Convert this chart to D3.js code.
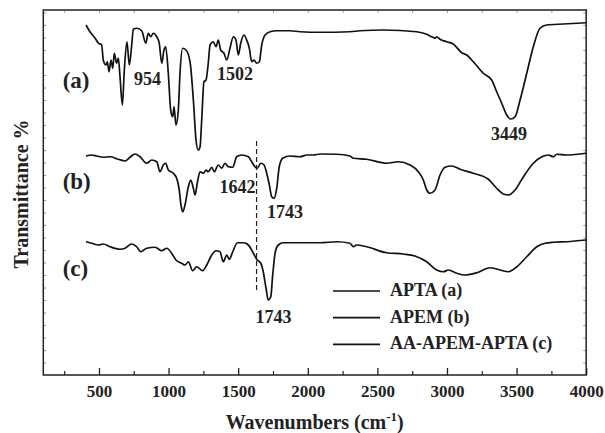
<!DOCTYPE html>
<html><head><meta charset="utf-8">
<script src="https://cdn.jsdelivr.net/npm/d3@7/dist/d3.min.js"></script>
<style>
html,body{margin:0;padding:0;background:#fff;}
svg{display:block;}
text{font-family:"Liberation Serif","Times New Roman",serif;font-weight:bold;fill:#222;}
</style></head>
<body>
<svg id="chart" width="605" height="433"></svg>
<script>
// ---- data ----
const seriesNames = ["APTA (a)", "APEM (b)", "AA-APEM-APTA (c)"];
const curveTags = ["(a)", "(b)", "(c)"];

const wnA = [407,435,471,495,519,531,550,560,572,586,599,610,627,639,651,668,682,701,718,735,747,771,807,836,854,872,890,915,933,951,967,979,998,1015,1030,1039,1053,1070,1082,1101,1125,1154,1178,1197,1213,1226,1238,1254,1269,1285,1298,1321,1341,1357,1374,1398,1418,1441,1465,1484,1501,1518,1542,1561,1580,1597,1614,1633,1652,1669,1693,1729,1777,1872,1944,2088,2303,2375,2543,2782,2854,2890,2914,2926,2950,2998,3045,3106,3142,3189,3261,3321,3357,3393,3429,3458,3489,3525,3573,3620,3668,3716,3836,4000];
const tA = [140,137.3,134.8,132.8,132,126,124,125.3,121.3,126,122.7,128.7,124.7,126.8,119.3,108,122,133.3,124,132,138.3,138.7,137.7,132.7,136.7,135.3,136.7,135.3,132.7,124.7,130,131.3,120.7,106,103.3,107.3,100,106,120.7,130.7,130,125.3,110,94,90,91.3,102,117.3,118,124.7,132,133.3,131.3,134,130,128.7,126,130.7,135.3,134,128,132.7,136,134,130.7,125.3,126,124.7,125.3,132,136,137.3,137.7,137.7,137.3,137.1,137.3,137.7,138,137.3,136.3,135.3,134.7,135.3,134.3,133.3,132.4,128.9,128,125.3,120.7,118,113.3,108.7,104,102.4,103.3,110,120.7,131.3,138.7,140,140.4,140.9];

const wnB = [407,448,484,531,579,639,687,723,759,795,843,879,915,938,962,979,998,1034,1058,1075,1089,1101,1118,1142,1159,1178,1190,1206,1226,1250,1269,1285,1310,1328,1357,1382,1405,1429,1461,1489,1525,1573,1597,1621,1637,1662,1686,1705,1724,1741,1757,1777,1795,1820,1872,1944,1992,2040,2088,2208,2303,2327,2423,2567,2650,2734,2794,2830,2854,2878,2914,2950,2986,3034,3094,3189,3297,3357,3405,3441,3489,3549,3620,3681,3728,3764,3788,3860,4000];
const tB = [87.6,88,87.6,87.1,87.3,86.3,85.6,87.1,88.4,87.3,84.7,86,85.3,81.3,84,84.7,82,80.7,78.7,74.7,68,65.3,68,75.3,78,74.7,72,76.7,81.3,80.7,82,81.3,83.1,81.3,84,82.7,84.7,83.3,83.1,87.3,88,87.3,85.3,83.3,82.7,84.7,84,80.7,76,71.3,70.7,74.7,83.3,86.7,87.6,87.3,88,88,88.4,88.3,87.6,86.7,86.3,84.7,85.3,84,81.3,78,74,72.7,74,80,83.1,83.6,82.3,80.7,78.3,74.7,72.4,72,74,79.3,84.7,87.3,88,87.3,88.3,88,88.7];

const wnC = [407,448,495,531,579,651,687,735,771,800,843,903,951,987,1022,1053,1094,1118,1142,1173,1202,1245,1274,1310,1341,1369,1393,1418,1436,1461,1494,1537,1573,1609,1637,1662,1680,1700,1716,1734,1748,1765,1788,1824,1944,2088,2208,2303,2327,2351,2423,2567,2686,2770,2854,2926,2974,3010,3070,3130,3214,3309,3381,3441,3489,3573,3645,3704,3764,3860,4000];
const tC = [53.3,52.7,52,52.4,51.3,50.3,50.7,52.4,51.3,49.3,50.7,51.1,49.7,50.7,48.7,46,44.7,44,45.3,41.7,43.3,41.7,44,48,49.7,49.3,45.3,48,46.3,49.3,52.9,52.9,52,48.7,46,44.7,41.3,34.7,30,31.3,40,48.7,52,52.9,52.9,52.9,53.3,52.7,51.3,52,51.3,48.9,48.4,47.6,45.3,42,41.3,42,40.7,40,40.9,42.9,42,41.3,42.7,47.3,51.3,52.7,53.1,53.3,54];

const majorTicks = [500,1000,1500,2000,2500,3000,3500,4000];
const peakLabels = ["954","1502","3449","1642","1743","1743"];
const peakWn = [849,1477,3446,1495,1836,1754];
const peakT = [116,118,94,72.8,62.8,20.8];
const tagWn = [239,239,239];
const tagT = [114.8,74.4,39.6];
const dashWn = 1632;
const dashRange = [34,93.6];

// ---- layout ----
const svg = d3.select("#chart");
const L = 43.3, R = 586.2, T = 10, B = 375;
const x = d3.scaleLinear().domain([100,4000]).range([L,R]);
const y = d3.scaleLinear().domain([0,146]).range([B,T]);

// minor ticks on top/left/right (grey, inward)
const gTop = svg.append("g").attr("transform",`translate(0,${T})`)
  .call(d3.axisTop(x).tickValues(d3.range(250,4001,250)).tickSize(-3).tickFormat(""));
const gLeft = svg.append("g").attr("transform",`translate(${L},0)`)
  .call(d3.axisLeft(y).tickValues(d3.range(5,146,5)).tickSize(-3).tickFormat(""));
const gRight = svg.append("g").attr("transform",`translate(${R},0)`)
  .call(d3.axisRight(y).tickValues(d3.range(5,146,5)).tickSize(-3).tickFormat(""));
[gTop,gLeft,gRight].forEach(g=>{
  g.select(".domain").remove();
  g.selectAll("line").attr("stroke","#888").attr("stroke-width",0.8);
});

// bottom axis
const gMinor = svg.append("g").attr("transform",`translate(0,${B})`)
  .call(d3.axisBottom(x).tickValues(d3.range(250,4000,500)).tickSize(-4).tickFormat(""));
gMinor.select(".domain").remove();
gMinor.selectAll("line").attr("stroke","#222").attr("stroke-width",1.2);

const gBottom = svg.append("g").attr("transform",`translate(0,${B})`)
  .call(d3.axisBottom(x).tickValues(majorTicks).tickSize(-7).tickFormat(d3.format("d")));
gBottom.select(".domain").remove();
gBottom.selectAll("line").attr("stroke","#222").attr("stroke-width",1.3);
gBottom.selectAll("text").attr("y",22).attr("dy",null)
  .style("font-family",'"Liberation Serif",serif').style("font-weight","bold")
  .style("font-size","17px").attr("fill","#222");

// frame
svg.append("rect").attr("x",L).attr("y",T).attr("width",R-L).attr("height",B-T)
  .attr("fill","none").attr("stroke","#222").attr("stroke-width",1.5);

// curves
const line = d3.line().x(d=>x(d[0])).y(d=>y(d[1])).curve(d3.curveMonotoneX);
const series = [[wnA,tA],[wnB,tB],[wnC,tC]];
series.forEach(([w,t])=>{
  svg.append("path").datum(w.map((v,i)=>[v,t[i]]))
    .attr("d",line).attr("fill","none").attr("stroke","#111")
    .attr("stroke-width",1.7).attr("stroke-linejoin","round");
});

// dashed marker
svg.append("line").attr("x1",x(dashWn)).attr("x2",x(dashWn))
  .attr("y1",y(dashRange[1])).attr("y2",y(dashRange[0]))
  .attr("stroke","#222").attr("stroke-width",1.2).attr("stroke-dasharray","5,3");

// peak labels
peakLabels.forEach((s,i)=>{
  svg.append("text").attr("x",x(peakWn[i])).attr("y",y(peakT[i]))
    .attr("text-anchor","middle").style("font-size","18px").text(s);
});
// curve tags
curveTags.forEach((s,i)=>{
  svg.append("text").attr("x",x(tagWn[i])).attr("y",y(tagT[i]))
    .style("font-size","23px").text(s);
});

// legend
const legY = [291,317.7,344.3];
seriesNames.forEach((s,i)=>{
  svg.append("line").attr("x1",333).attr("x2",380).attr("y1",legY[i]).attr("y2",legY[i])
    .attr("stroke","#111").attr("stroke-width",1.7);
  svg.append("text").attr("x",390).attr("y",legY[i]+5).style("font-size","18px").text(s);
});

// axis titles
const xt = svg.append("text").attr("x",(L+R)/2).attr("y",429).attr("text-anchor","middle")
  .style("font-size","20px");
xt.append("tspan").text("Wavenumbers (cm");
xt.append("tspan").attr("dy",-8).style("font-size","13px").text("-1");
xt.append("tspan").attr("dy",8).text(")");

svg.append("text").attr("transform","translate(28,194) rotate(-90)")
  .attr("text-anchor","middle").style("font-size","20px").text("Transmittance %");
</script>
</body></html>
